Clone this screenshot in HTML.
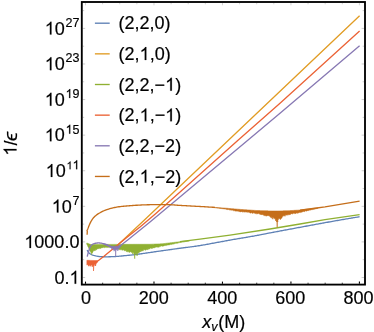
<!DOCTYPE html>
<html><head><meta charset="utf-8"><title>plot</title>
<style>
html,body{margin:0;padding:0;background:#fff;}
svg{display:block;will-change:transform;}
text{font-family:"Liberation Sans",sans-serif;fill:#000;stroke:#000;stroke-width:0.18px;}
.o{fill:none;stroke:none;}
</style></head><body>
<svg width="374" height="332" viewBox="0 0 374 332">
<g>
<path d="M87.10 250.10 L87.57 250.96 L88.20 252.00 L88.79 252.74 L89.50 253.40 L90.44 254.04 L91.50 254.60 L92.43 255.01 L93.80 255.40 L94.66 255.61 L95.67 255.86 L96.80 256.10 L98.01 256.33 L99.30 256.50 L100.27 256.59 L101.29 256.66 L102.36 256.72 L103.46 256.76 L104.59 256.78 L105.74 256.80 L106.90 256.80 L107.93 256.79 L109.01 256.78 L110.10 256.75 L111.21 256.71 L112.31 256.66 L113.40 256.61 L114.47 256.56 L115.50 256.50 L116.57 256.43 L117.53 256.36 L118.45 256.29 L119.39 256.21 L120.42 256.11 L121.60 255.99 L123.00 255.85 L123.78 255.77 L124.58 255.70 L125.41 255.62 L126.26 255.54 L127.15 255.45 L128.07 255.36 L129.03 255.27 L130.03 255.16 L131.07 255.05 L132.15 254.93 L133.29 254.81 L134.47 254.67 L135.71 254.51 L137.00 254.35 L137.82 254.24 L138.68 254.13 L139.58 254.00 L140.50 253.88 L141.46 253.74 L142.43 253.60 L143.43 253.46 L144.45 253.32 L145.49 253.17 L146.54 253.01 L147.59 252.86 L148.66 252.70 L149.73 252.55 L150.80 252.39 L151.87 252.23 L152.93 252.08 L153.99 251.92 L155.03 251.77 L156.07 251.62 L157.08 251.47 L158.08 251.33 L159.05 251.19 L160.00 251.05 L161.07 250.90 L162.12 250.75 L163.16 250.60 L164.19 250.46 L165.21 250.31 L166.22 250.17 L167.22 250.03 L168.22 249.89 L169.20 249.75 L170.19 249.61 L171.17 249.48 L172.14 249.34 L173.12 249.20 L174.09 249.07 L175.07 248.93 L176.05 248.80 L177.03 248.66 L178.01 248.52 L179.00 248.39 L180.00 248.25 L180.99 248.12 L181.95 247.99 L182.90 247.87 L183.84 247.75 L184.77 247.63 L185.69 247.52 L186.60 247.41 L187.52 247.29 L188.44 247.18 L189.38 247.07 L190.32 246.95 L191.28 246.82 L192.26 246.69 L193.27 246.56 L194.30 246.42 L195.36 246.26 L196.46 246.10 L197.59 245.93 L198.77 245.75 L200.00 245.55 L200.85 245.41 L201.73 245.26 L202.64 245.11 L203.58 244.95 L204.54 244.78 L205.52 244.60 L206.52 244.42 L207.54 244.24 L208.58 244.05 L209.63 243.86 L210.69 243.67 L211.76 243.47 L212.84 243.27 L213.92 243.07 L215.00 242.87 L216.08 242.67 L217.16 242.47 L218.24 242.26 L219.31 242.06 L220.37 241.87 L221.42 241.67 L222.46 241.48 L223.48 241.29 L224.48 241.10 L225.46 240.92 L226.42 240.75 L227.36 240.57 L228.27 240.41 L229.15 240.25 L230.00 240.10 L231.24 239.88 L232.45 239.67 L233.65 239.46 L234.82 239.26 L235.96 239.06 L237.08 238.87 L238.18 238.69 L239.25 238.51 L240.29 238.33 L241.31 238.16 L242.31 238.00 L243.27 237.84 L244.21 237.68 L245.12 237.53 L246.01 237.38 L246.86 237.24 L247.69 237.10 L248.49 236.96 L249.26 236.83 L250.00 236.70 L251.47 236.44 L252.70 236.23 L253.74 236.04 L254.64 235.87 L255.47 235.72 L256.26 235.57 L257.08 235.42 L257.97 235.25 L259.00 235.05 L259.76 234.90 L260.28 234.80 L260.67 234.72 L261.00 234.64 L261.39 234.56 L261.91 234.45 L262.68 234.30 L263.77 234.08 L265.30 233.79 L267.34 233.40 L270.00 232.90 L270.62 232.78 L271.27 232.66 L271.96 232.53 L272.67 232.40 L273.42 232.26 L274.20 232.11 L275.01 231.96 L275.85 231.81 L276.71 231.64 L277.60 231.48 L278.51 231.31 L279.45 231.13 L280.40 230.95 L281.38 230.77 L282.38 230.59 L283.39 230.40 L284.43 230.20 L285.48 230.01 L286.54 229.81 L287.62 229.61 L288.71 229.40 L289.81 229.20 L290.92 228.99 L292.04 228.78 L293.17 228.57 L294.31 228.36 L295.45 228.15 L296.60 227.93 L297.75 227.72 L298.90 227.51 L300.05 227.29 L301.21 227.08 L302.36 226.86 L303.51 226.65 L304.65 226.44 L305.79 226.23 L306.93 226.02 L308.05 225.81 L309.17 225.60 L310.28 225.40 L311.38 225.19 L312.47 224.99 L313.54 224.80 L314.60 224.60 L315.65 224.41 L316.67 224.22 L317.69 224.03 L318.68 223.85 L319.65 223.67 L320.60 223.50 L321.53 223.33 L322.44 223.17 L323.32 223.01 L324.17 222.85 L325.00 222.70 L326.28 222.47 L327.55 222.24 L328.81 222.02 L330.07 221.79 L331.32 221.57 L332.55 221.35 L333.78 221.14 L334.99 220.92 L336.19 220.71 L337.38 220.50 L338.55 220.30 L339.71 220.10 L340.85 219.90 L341.97 219.71 L343.07 219.52 L344.15 219.33 L345.22 219.15 L346.25 218.97 L347.27 218.80 L348.26 218.63 L349.23 218.47 L350.17 218.31 L351.09 218.15 L351.97 218.00 L352.83 217.85 L353.66 217.71 L354.46 217.58 L355.22 217.45 L355.95 217.32 L356.65 217.21 L357.31 217.09 L357.94 216.99 L358.53 216.88 L359.09 216.79 L359.60 216.70" fill="none" stroke="#5E81B5" stroke-width="1.32" stroke-linejoin="round" stroke-linecap="butt" />
<path d="M113.40 248.40 L117.80 245.00 L146.00 218.55 L176.00 190.00 L359.60 15.80" fill="none" stroke="#E19C24" stroke-width="1.32" stroke-linejoin="round" stroke-linecap="butt" />
<path d="M86.80 243.00 L87.20 243.15 L87.60 243.30 L88.00 243.46 L88.40 243.61 L88.80 243.76 L89.20 243.91 L89.60 244.07 L90.00 244.22 L90.40 244.37 L90.80 244.52 L91.20 244.60 L91.60 244.59 L92.00 244.58 L92.40 244.57 L92.80 244.56 L93.20 244.55 L93.60 244.54 L94.00 244.53 L94.40 244.52 L94.80 244.52 L95.20 244.51 L95.60 244.50 L96.00 244.49 L96.40 244.48 L96.80 244.47 L97.20 244.46 L97.60 244.45 L98.00 244.44 L98.40 244.44 L98.80 244.43 L99.20 244.42 L99.60 244.41 L100.00 244.40 L100.40 244.40 L100.80 244.40 L101.20 244.40 L101.60 244.40 L102.00 244.40 L102.40 244.40 L102.80 244.40 L103.20 244.40 L103.60 244.40 L104.00 244.40 L104.40 244.40 L104.80 244.40 L105.20 244.40 L105.60 244.40 L106.00 244.40 L106.40 244.40 L106.80 244.40 L107.20 244.40 L107.60 244.40 L108.00 244.40 L108.40 244.40 L108.80 244.40 L109.20 244.40 L109.60 244.40 L110.00 244.40 L110.40 244.40 L110.80 244.40 L111.20 244.40 L111.60 244.40 L112.00 244.40 L112.40 244.40 L112.80 244.40 L113.20 244.40 L113.60 244.40 L114.00 244.39 L114.40 244.39 L114.80 244.39 L115.20 244.39 L115.60 244.39 L116.00 244.39 L116.40 244.39 L116.80 244.39 L117.20 244.39 L117.60 244.39 L118.00 244.38 L118.40 244.38 L118.80 244.38 L119.20 244.38 L119.60 244.38 L120.00 244.38 L120.40 244.38 L120.80 244.38 L121.20 244.38 L121.60 244.37 L122.00 244.37 L122.40 244.37 L122.80 244.37 L123.20 244.37 L123.60 244.37 L124.00 244.37 L124.40 244.37 L124.80 244.37 L125.20 244.37 L125.60 244.36 L126.00 244.36 L126.40 244.36 L126.80 244.36 L127.20 244.36 L127.60 244.36 L128.00 244.36 L128.40 244.36 L128.80 244.36 L129.20 244.35 L129.60 244.35 L130.00 244.35 L130.40 244.35 L130.80 244.35 L131.20 244.35 L131.60 244.35 L132.00 244.35 L132.40 244.35 L132.80 244.35 L133.20 244.34 L133.60 244.34 L134.00 244.34 L134.40 244.34 L134.80 244.34 L135.20 244.34 L135.60 244.34 L136.00 244.34 L136.40 244.34 L136.80 244.33 L137.20 244.33 L137.60 244.33 L138.00 244.33 L138.40 244.33 L138.80 244.33 L139.20 244.33 L139.60 244.33 L140.00 244.33 L140.40 244.33 L140.80 244.32 L141.20 244.32 L141.60 244.32 L142.00 244.32 L142.40 244.32 L142.80 244.32 L143.20 244.32 L143.60 244.32 L144.00 244.32 L144.40 244.31 L144.80 244.31 L145.20 244.31 L145.60 244.31 L146.00 244.31 L146.40 244.31 L146.80 244.31 L147.20 244.31 L147.60 244.31 L148.00 244.31 L148.40 244.30 L148.80 244.30 L149.20 244.30 L149.60 244.30 L150.00 244.30 L150.40 244.28 L150.80 244.27 L151.20 244.25 L151.60 244.23 L152.00 244.22 L152.40 244.20 L152.80 244.18 L153.20 244.17 L153.60 244.15 L154.00 244.13 L154.40 244.12 L154.80 244.10 L155.20 244.08 L155.60 244.07 L156.00 244.05 L156.40 244.03 L156.80 244.02 L157.20 244.00 L157.60 243.98 L158.00 243.97 L158.40 243.95 L158.80 243.93 L159.20 243.92 L159.60 243.90 L160.00 243.88 L160.40 243.87 L160.80 243.85 L161.20 243.83 L161.60 243.82 L162.00 243.80 L162.40 243.75 L162.80 243.71 L163.20 243.66 L163.60 243.61 L164.00 243.57 L164.40 243.52 L164.80 243.47 L165.20 243.43 L165.60 243.38 L166.00 243.33 L166.40 243.29 L166.80 243.24 L167.20 243.19 L167.60 243.15 L168.00 243.10 L168.40 243.05 L168.80 243.01 L169.20 242.96 L169.60 242.91 L170.00 242.87 L170.40 242.82 L170.80 242.77 L171.20 242.73 L171.60 242.68 L172.00 242.63 L172.40 242.59 L172.80 242.54 L173.20 242.49 L173.60 242.45 L174.00 242.40 L174.40 242.35 L174.80 242.31 L175.20 242.26 L175.60 242.21 L176.00 242.17 L176.40 242.12 L176.80 242.07 L177.20 242.03 L177.60 241.98 L178.00 241.93 L178.40 241.89 L178.80 241.84 L179.20 241.79 L179.60 241.75 L180.00 241.70 L180.40 241.65 L180.80 241.60 L181.20 241.56 L181.60 241.51 L182.00 241.46 L182.40 241.41 L182.80 241.36 L183.20 241.32 L183.60 241.27 L184.00 241.22 L184.40 241.17 L184.80 241.12 L185.20 241.08 L185.60 241.03 L186.00 240.98 L186.40 240.93 L186.80 240.88 L187.20 240.84 L187.60 240.79 L188.00 240.74 L188.40 240.69 L188.80 240.64 L189.20 240.60 L189.60 240.55 L189.60 240.90 L189.20 241.04 L188.80 241.09 L188.40 241.13 L188.00 241.24 L187.60 241.25 L187.20 241.32 L186.80 241.39 L186.40 241.41 L186.00 241.53 L185.60 241.54 L185.20 241.64 L184.80 241.72 L184.40 241.80 L184.00 241.79 L183.60 241.97 L183.20 241.99 L182.80 242.08 L182.40 242.10 L182.00 242.22 L181.60 242.28 L181.20 242.35 L180.80 242.43 L180.40 242.39 L180.00 242.44 L179.60 242.61 L179.20 242.60 L178.80 242.77 L178.40 242.83 L178.00 242.84 L177.60 243.15 L177.20 243.21 L176.80 243.20 L176.40 243.34 L176.00 243.34 L175.60 243.34 L175.20 243.47 L174.80 243.75 L174.40 243.64 L174.00 243.69 L173.60 244.02 L173.20 244.12 L172.80 244.20 L172.40 244.09 L172.00 244.10 L171.60 244.38 L171.20 244.47 L170.80 244.34 L170.40 244.49 L170.00 244.76 L169.60 244.65 L169.20 244.98 L168.80 244.92 L168.40 244.88 L168.00 244.93 L167.60 244.95 L167.20 245.13 L166.80 245.46 L166.40 245.21 L166.00 245.35 L165.60 245.50 L165.20 245.40 L164.80 245.44 L164.40 245.65 L164.00 245.92 L163.60 246.00 L163.20 246.06 L162.80 246.14 L162.40 246.14 L162.00 245.90 L161.60 245.96 L161.20 246.07 L160.80 246.42 L160.40 246.21 L160.00 246.45 L159.60 246.79 L159.20 246.87 L158.80 247.11 L158.40 247.20 L158.00 247.08 L157.60 247.05 L157.20 247.34 L156.80 247.06 L156.40 247.08 L156.00 247.17 L155.60 247.22 L155.20 247.19 L154.80 247.40 L154.40 247.95 L154.00 247.95 L153.60 247.66 L153.20 247.95 L152.80 247.82 L152.40 248.43 L152.00 248.33 L151.60 248.51 L151.20 248.20 L150.80 248.12 L150.40 248.09 L150.00 248.59 L149.60 249.18 L149.20 248.76 L148.80 249.26 L148.40 248.97 L148.00 248.61 L147.60 249.70 L147.20 249.65 L146.80 249.00 L146.40 249.73 L146.00 249.74 L145.60 250.12 L145.20 250.24 L144.80 249.87 L144.40 250.02 L144.00 249.46 L143.60 249.76 L143.20 250.85 L142.80 250.65 L142.40 250.80 L142.00 251.06 L141.60 251.34 L141.20 250.79 L140.80 250.52 L140.40 251.93 L140.00 251.53 L139.60 252.19 L139.20 252.36 L138.80 252.86 L138.40 253.02 L138.00 252.75 L137.60 253.32 L137.50 253.68 L137.20 253.48 L137.10 255.90 L136.80 253.93 L136.70 254.09 L136.40 254.06 L136.00 253.04 L135.60 254.22 L135.20 253.73 L135.20 254.55 L134.80 253.86 L134.70 258.70 L134.40 252.96 L134.20 254.52 L134.00 252.68 L133.60 252.76 L133.20 252.40 L132.80 253.91 L132.40 252.56 L132.00 252.52 L131.60 252.55 L131.20 252.08 L130.80 251.47 L130.40 252.00 L130.00 252.18 L129.60 251.99 L129.20 252.57 L128.80 252.04 L128.40 251.41 L128.00 251.48 L127.60 251.77 L127.20 251.66 L126.80 251.64 L126.40 251.57 L126.00 250.28 L125.60 250.29 L125.20 250.95 L124.80 250.76 L124.40 250.84 L124.00 249.94 L123.60 249.90 L123.20 249.71 L122.80 250.04 L122.40 250.06 L122.00 250.40 L121.60 249.33 L121.20 249.80 L120.80 249.85 L120.40 249.87 L120.00 249.05 L119.60 249.73 L119.20 249.57 L118.80 249.41 L118.40 249.01 L118.00 249.36 L117.60 248.62 L117.20 248.80 L116.80 248.80 L116.40 248.21 L116.00 247.97 L115.60 248.19 L115.20 248.05 L114.80 248.51 L114.40 247.94 L114.00 248.02 L113.60 247.57 L113.20 247.59 L112.80 247.81 L112.40 247.64 L112.00 247.56 L111.60 247.42 L111.20 247.61 L110.80 247.16 L110.40 247.29 L110.00 247.11 L109.60 247.17 L109.20 247.57 L108.80 247.29 L108.40 247.50 L108.00 247.12 L107.60 247.36 L107.20 247.57 L106.80 247.03 L106.40 247.51 L106.00 247.24 L105.60 247.17 L105.20 247.42 L104.80 247.41 L104.40 247.66 L104.00 247.37 L103.60 247.33 L103.20 247.71 L102.80 247.68 L102.40 247.66 L102.00 247.94 L101.60 247.93 L101.20 247.81 L100.80 248.26 L100.40 248.47 L100.00 248.55 L99.60 248.25 L99.20 248.52 L98.80 248.39 L98.40 248.56 L98.00 249.05 L97.60 248.55 L97.20 249.17 L96.80 249.48 L96.40 249.72 L96.00 249.82 L95.60 249.41 L95.20 250.64 L94.80 249.71 L94.40 250.72 L94.00 250.72 L93.60 250.42 L93.20 251.18 L92.80 252.11 L92.40 252.60 L92.10 253.06 L92.00 251.73 L91.70 254.50 L91.60 252.57 L91.30 253.06 L91.20 252.82 L90.80 252.37 L90.40 251.20 L90.00 251.16 L89.60 249.78 L89.20 249.40 L88.80 248.15 L88.40 247.18 L88.00 246.67 L87.60 245.54 L87.20 244.98 L86.80 244.12Z" fill="#8FB032" stroke="#8FB032" stroke-width="0.60" stroke-linejoin="round"/>
<path d="M180.00 241.70 L200.00 239.10 L230.00 235.10 L270.00 229.00 L300.00 224.00 L325.00 219.60 L359.60 214.70" fill="none" stroke="#8FB032" stroke-width="1.32" stroke-linejoin="round" stroke-linecap="butt" />
<path d="M86.90 260.30 L87.40 260.31 L87.90 260.33 L88.40 260.34 L88.90 260.36 L89.40 260.37 L89.90 260.38 L90.40 260.40 L90.90 260.41 L91.40 260.42 L91.90 260.44 L92.40 260.45 L92.90 260.47 L93.40 260.48 L93.90 260.49 L94.40 260.51 L94.90 260.52 L95.40 260.53 L95.90 260.55 L96.40 260.56 L96.90 260.58 L97.40 260.59 L97.40 262.13 L96.90 262.78 L96.40 263.43 L95.90 264.01 L95.85 264.81 L95.50 266.00 L95.40 264.97 L95.15 265.59 L94.90 264.29 L94.40 264.49 L94.00 265.55 L93.90 264.75 L93.50 271.00 L93.40 264.81 L93.00 265.52 L92.90 264.42 L92.70 265.50 L92.40 265.10 L92.30 267.00 L91.90 265.13 L91.90 265.48 L91.40 264.67 L90.90 265.29 L90.55 265.43 L90.40 264.32 L90.20 266.40 L89.90 264.62 L89.85 265.40 L89.40 264.66 L88.95 265.37 L88.90 264.91 L88.60 266.20 L88.40 264.57 L88.25 265.35 L87.90 264.32 L87.40 264.65 L86.90 265.06Z" fill="#EB6235" stroke="#EB6235" stroke-width="0.60" stroke-linejoin="round"/>
<path d="M96.50 262.00 L104.30 255.90 L113.40 248.40 L120.00 242.90 L128.00 236.50 L140.00 226.95 L150.00 218.50 L155.00 214.15 L182.30 190.00 L238.30 140.00 L280.00 103.15 L359.60 31.00" fill="none" stroke="#EB6235" stroke-width="1.32" stroke-linejoin="round" stroke-linecap="butt" />
<path d="M103.50 243.50 L104.00 243.71 L104.50 243.91 L105.00 244.12 L105.50 244.32 L106.00 244.53 L106.50 244.74 L107.00 244.94 L107.50 245.12 L108.00 245.30 L108.50 245.48 L109.00 245.66 L109.50 245.84 L110.00 246.02 L110.50 246.20 L111.00 246.23 L111.50 246.26 L112.00 246.29 L112.50 246.31 L113.00 246.34 L113.50 246.37 L114.00 246.40 L114.50 246.39 L115.00 246.38 L115.50 246.36 L116.00 246.35 L116.50 246.34 L117.00 246.33 L117.50 246.31 L118.00 246.30 L118.50 246.07 L119.00 245.84 L119.50 245.60 L120.00 245.37 L120.50 245.14 L120.50 246.62 L120.00 247.27 L119.50 248.16 L119.00 247.95 L118.50 248.02 L118.30 249.42 L118.00 248.96 L117.90 250.90 L117.50 249.90 L117.50 249.33 L117.00 248.72 L116.50 249.86 L116.20 250.20 L116.00 248.71 L115.60 256.70 L115.50 248.84 L115.00 250.20 L115.00 249.98 L114.50 249.19 L114.40 250.20 L114.00 251.20 L114.00 249.11 L113.60 250.02 L113.50 249.75 L113.00 248.53 L112.50 248.52 L112.00 248.49 L111.50 248.66 L111.00 247.98 L110.50 247.56 L110.00 247.14 L109.50 247.09 L109.00 246.86 L108.50 246.30 L108.00 246.04 L107.50 246.01 L107.00 245.93 L106.50 245.40 L106.00 245.19 L105.50 245.03 L105.00 244.70 L104.50 244.63 L104.00 244.37 L103.50 244.16Z" fill="#8778B3" stroke="#8778B3" stroke-width="0.60" stroke-linejoin="round"/>
<path d="M87.20 256.60 L87.38 255.89 L87.60 255.00 L87.77 254.32 L88.00 253.50 L88.15 252.95 L88.33 252.32 L88.53 251.62 L88.80 250.80 L89.02 250.15 L89.26 249.40 L89.53 248.61 L89.81 247.82 L90.11 247.10 L90.40 246.50 L90.99 245.63 L91.60 245.01 L92.30 244.50 L92.89 244.15 L93.52 243.85 L94.19 243.61 L94.90 243.40 L95.66 243.23 L96.46 243.09 L97.29 243.00 L98.10 242.95 L98.88 242.95 L99.66 242.98 L100.45 243.07 L101.30 243.20 L102.05 243.35 L102.86 243.55 L103.69 243.76 L104.48 243.99 L105.20 244.20 L105.97 244.44 L106.64 244.67 L107.30 244.91 L108.00 245.20 L108.63 245.48 L109.29 245.80 L109.97 246.13 L110.61 246.44 L111.20 246.70 L112.12 247.02 L112.94 247.25 L113.50 247.40" fill="none" stroke="#8778B3" stroke-width="1.32" stroke-linejoin="round" stroke-linecap="butt" />
<path d="M118.50 247.20 L120.60 245.50 L128.00 239.70 L150.00 221.90 L188.30 190.10 L248.10 140.00 L280.00 113.15 L359.60 45.80" fill="none" stroke="#8778B3" stroke-width="1.32" stroke-linejoin="round" stroke-linecap="butt" />
<path d="M88.00 228.60 L88.24 227.86 L88.60 226.79 L89.00 225.70 L89.43 224.67 L89.90 223.62 L90.40 222.60 L90.90 221.64 L91.43 220.71 L92.00 219.80 L92.60 218.92 L93.24 218.06 L94.00 217.20 L94.92 216.31 L95.96 215.41 L97.00 214.60 L98.03 213.90 L99.08 213.28 L100.10 212.70 L101.07 212.16 L102.03 211.67 L103.00 211.20 L103.91 210.77 L104.84 210.36 L106.10 209.90 L106.89 209.63 L107.75 209.33 L108.69 209.02 L109.72 208.71 L110.85 208.40 L112.10 208.10 L112.97 207.90 L113.84 207.71 L114.74 207.51 L115.69 207.32 L116.70 207.13 L117.80 206.94 L119.00 206.75 L120.33 206.57 L121.80 206.40 L122.61 206.31 L123.47 206.23 L124.38 206.14 L125.33 206.06 L126.33 205.97 L127.36 205.89 L128.41 205.81 L129.48 205.72 L130.57 205.64 L131.66 205.57 L132.76 205.49 L133.86 205.42 L134.94 205.35 L136.01 205.28 L137.05 205.22 L138.07 205.16 L139.06 205.10 L140.00 205.05 L141.09 204.99 L142.16 204.95 L143.20 204.90 L144.23 204.86 L145.24 204.83 L146.23 204.80 L147.21 204.77 L148.19 204.75 L149.15 204.73 L150.12 204.71 L151.08 204.70 L152.05 204.69 L153.02 204.67 L154.01 204.66 L155.00 204.65 L156.01 204.64 L157.04 204.63 L158.08 204.62 L159.13 204.61 L160.19 204.61 L161.24 204.61 L162.29 204.61 L163.33 204.61 L164.36 204.61 L165.37 204.62 L166.36 204.63 L167.32 204.64 L168.25 204.66 L169.15 204.68 L170.00 204.70 L171.16 204.74 L172.16 204.79 L173.05 204.85 L173.88 204.91 L174.69 204.98 L175.52 205.06 L176.42 205.14 L177.44 205.22 L178.62 205.31 L180.00 205.40 L180.78 205.45 L181.62 205.49 L182.51 205.55 L183.44 205.60 L184.41 205.65 L185.42 205.71 L186.46 205.76 L187.52 205.82 L188.60 205.88 L189.69 205.94 L190.78 206.00 L191.88 206.06 L192.97 206.11 L194.05 206.17 L195.12 206.23 L196.16 206.29 L197.18 206.34 L198.16 206.40 L199.10 206.45 L200.00 206.50 L201.18 206.57 L202.37 206.64 L203.56 206.71 L204.75 206.78 L205.93 206.85 L207.08 206.92 L208.20 206.99 L209.29 207.05 L210.32 207.11 L211.30 207.17 L212.21 207.23 L213.04 207.28 L213.79 207.33 L214.45 207.37 L215.00 207.40" fill="none" stroke="#C56E1A" stroke-width="1.32" stroke-linejoin="round" stroke-linecap="butt" />
<path d="M87.10 234.70 L87.30 231.50 L87.00 230.40 L87.60 229.50 L88.00 228.60" fill="none" stroke="#C56E1A" stroke-width="1.32" stroke-linejoin="round" stroke-linecap="butt" />
<path d="M213.00 207.30 L213.45 207.33 L213.90 207.36 L214.35 207.39 L214.80 207.42 L215.25 207.45 L215.70 207.48 L216.15 207.51 L216.60 207.55 L217.05 207.58 L217.50 207.61 L217.95 207.64 L218.40 207.67 L218.85 207.70 L219.30 207.73 L219.75 207.76 L220.20 207.79 L220.65 207.82 L221.10 207.85 L221.55 207.88 L222.00 207.91 L222.45 207.94 L222.90 207.97 L223.35 208.01 L223.80 208.04 L224.25 208.07 L224.70 208.11 L225.15 208.15 L225.60 208.18 L226.05 208.22 L226.50 208.26 L226.95 208.30 L227.40 208.34 L227.85 208.37 L228.30 208.41 L228.75 208.45 L229.20 208.49 L229.65 208.53 L230.10 208.56 L230.55 208.60 L231.00 208.64 L231.45 208.68 L231.90 208.72 L232.35 208.75 L232.80 208.79 L233.25 208.83 L233.70 208.87 L234.15 208.91 L234.60 208.94 L235.05 208.98 L235.50 209.02 L235.95 209.06 L236.40 209.10 L236.85 209.13 L237.30 209.17 L237.75 209.21 L238.20 209.25 L238.65 209.29 L239.10 209.32 L239.55 209.36 L240.00 209.40 L240.45 209.43 L240.90 209.46 L241.35 209.49 L241.80 209.52 L242.25 209.55 L242.70 209.59 L243.15 209.62 L243.60 209.65 L244.05 209.68 L244.50 209.71 L244.95 209.74 L245.40 209.77 L245.85 209.80 L246.30 209.83 L246.75 209.86 L247.20 209.89 L247.65 209.93 L248.10 209.96 L248.55 209.99 L249.00 210.02 L249.45 210.05 L249.90 210.08 L250.35 210.11 L250.80 210.14 L251.25 210.17 L251.70 210.20 L252.15 210.24 L252.60 210.27 L253.05 210.30 L253.50 210.33 L253.95 210.36 L254.40 210.39 L254.85 210.42 L255.30 210.45 L255.75 210.48 L256.20 210.51 L256.65 210.52 L257.10 210.53 L257.55 210.55 L258.00 210.56 L258.45 210.58 L258.90 210.59 L259.35 210.60 L259.80 210.62 L260.25 210.63 L260.70 210.65 L261.15 210.66 L261.60 210.67 L262.05 210.69 L262.50 210.70 L262.95 210.72 L263.40 210.73 L263.85 210.75 L264.30 210.76 L264.75 210.77 L265.20 210.79 L265.65 210.80 L266.10 210.82 L266.55 210.83 L267.00 210.84 L267.45 210.86 L267.90 210.87 L268.35 210.89 L268.80 210.90 L269.25 210.91 L269.70 210.93 L270.15 210.94 L270.60 210.96 L271.05 210.97 L271.50 210.98 L271.95 211.00 L272.40 211.00 L272.85 211.00 L273.30 211.00 L273.75 211.00 L274.20 211.00 L274.65 211.00 L275.10 211.00 L275.55 211.00 L276.00 211.00 L276.45 211.00 L276.90 211.00 L277.35 211.00 L277.80 211.00 L278.25 210.99 L278.70 210.98 L279.15 210.97 L279.60 210.96 L280.05 210.95 L280.50 210.94 L280.95 210.93 L281.40 210.92 L281.85 210.90 L282.30 210.89 L282.75 210.88 L283.20 210.87 L283.65 210.86 L284.10 210.85 L284.55 210.84 L285.00 210.83 L285.45 210.81 L285.90 210.80 L286.35 210.79 L286.80 210.78 L287.25 210.77 L287.70 210.76 L288.15 210.74 L288.60 210.72 L289.05 210.69 L289.50 210.66 L289.95 210.64 L290.40 210.61 L290.85 210.58 L291.30 210.56 L291.75 210.53 L292.20 210.51 L292.65 210.48 L293.10 210.45 L293.55 210.43 L294.00 210.40 L294.45 210.37 L294.90 210.35 L295.35 210.32 L295.80 210.30 L296.25 210.27 L296.70 210.24 L297.15 210.22 L297.60 210.19 L298.05 210.16 L298.50 210.14 L298.95 210.11 L299.40 210.09 L299.85 210.06 L300.30 210.01 L300.75 209.96 L301.20 209.91 L301.65 209.85 L302.10 209.80 L302.55 209.75 L303.00 209.69 L303.45 209.64 L303.90 209.58 L304.35 209.53 L304.80 209.48 L305.25 209.42 L305.70 209.37 L306.15 209.32 L306.60 209.26 L307.05 209.21 L307.50 209.15 L307.95 209.10 L308.40 209.05 L308.85 208.99 L309.30 208.94 L309.75 208.89 L310.20 208.83 L310.65 208.78 L311.10 208.72 L311.55 208.67 L312.00 208.62 L312.45 208.56 L312.90 208.51 L313.35 208.46 L313.80 208.40 L314.25 208.35 L314.70 208.29 L315.15 208.24 L315.60 208.19 L316.05 208.13 L316.50 208.08 L316.95 208.03 L317.40 207.97 L317.85 207.92 L317.85 208.24 L317.40 208.26 L316.95 208.44 L316.50 208.55 L316.05 208.70 L315.60 208.79 L315.15 208.87 L314.70 208.97 L314.25 209.21 L313.80 209.33 L313.35 209.31 L312.90 209.29 L312.45 209.62 L312.00 209.57 L311.55 209.60 L311.10 209.86 L310.65 209.84 L310.20 210.25 L309.75 209.99 L309.30 210.30 L308.85 210.60 L308.40 210.49 L307.95 210.80 L307.50 210.49 L307.05 211.02 L306.60 211.09 L306.15 211.09 L305.70 210.86 L305.25 211.06 L304.80 211.39 L304.35 211.80 L303.90 211.27 L303.45 211.33 L303.00 212.00 L302.55 211.59 L302.10 212.28 L301.65 212.12 L301.20 212.22 L300.75 212.29 L300.30 212.58 L299.85 212.34 L299.40 212.40 L298.95 212.48 L298.50 212.92 L298.05 213.19 L297.60 213.31 L297.15 212.86 L296.70 213.18 L296.25 212.82 L295.80 213.39 L295.35 213.59 L294.90 213.75 L294.45 213.24 L294.00 213.35 L293.55 213.27 L293.10 213.44 L292.65 213.76 L292.20 213.96 L291.75 213.91 L291.30 213.42 L290.85 213.78 L290.40 214.53 L289.95 213.96 L289.50 214.64 L289.05 214.98 L288.60 214.84 L288.15 214.27 L287.70 215.31 L287.25 214.61 L286.80 214.93 L286.35 215.11 L285.90 214.86 L285.45 214.91 L285.00 216.34 L284.55 215.68 L284.10 215.48 L283.65 215.83 L283.20 216.12 L282.75 216.56 L282.30 216.26 L281.85 218.18 L281.40 217.93 L280.95 218.81 L280.50 219.42 L280.05 219.25 L279.60 218.34 L279.15 218.72 L278.70 218.42 L278.25 219.72 L277.80 219.27 L277.75 222.00 L277.35 219.34 L277.20 227.20 L276.90 219.24 L276.65 222.00 L276.45 220.23 L276.00 219.86 L275.55 220.72 L275.10 218.40 L274.65 218.39 L274.20 218.46 L273.75 217.52 L273.30 217.46 L272.85 219.23 L272.40 217.50 L271.95 217.08 L271.50 218.20 L271.05 216.14 L270.60 217.37 L270.15 217.02 L269.70 215.83 L269.25 215.97 L268.80 215.89 L268.35 215.53 L267.90 215.75 L267.45 215.55 L267.00 216.04 L266.55 215.81 L266.10 216.16 L265.65 216.01 L265.20 215.33 L264.75 215.70 L264.30 215.32 L263.85 215.59 L263.40 214.76 L262.95 215.07 L262.50 214.55 L262.05 214.48 L261.60 214.52 L261.15 214.93 L260.70 214.39 L260.25 214.37 L259.80 213.49 L259.35 214.28 L258.90 213.84 L258.45 213.28 L258.00 213.22 L257.55 213.92 L257.10 213.64 L256.65 213.86 L256.20 213.47 L255.75 213.57 L255.30 213.55 L254.85 213.45 L254.40 213.00 L253.95 212.75 L253.50 212.72 L253.05 213.38 L252.60 213.24 L252.15 213.09 L251.70 212.58 L251.25 213.12 L250.80 213.00 L250.35 213.00 L249.90 212.68 L249.45 212.57 L249.00 212.31 L248.55 212.19 L248.10 212.03 L247.65 212.38 L247.20 211.82 L246.75 212.02 L246.30 212.12 L245.85 212.17 L245.40 211.77 L244.95 212.00 L244.50 212.01 L244.05 211.66 L243.60 212.18 L243.15 211.49 L242.70 211.80 L242.25 211.98 L241.80 211.66 L241.35 211.48 L240.90 211.98 L240.45 211.76 L240.00 211.89 L239.55 211.56 L239.10 211.61 L238.65 211.30 L238.20 211.37 L237.75 210.97 L237.30 211.21 L236.85 211.12 L236.40 211.12 L235.95 211.13 L235.50 210.98 L235.05 210.94 L234.60 210.78 L234.15 210.53 L233.70 210.68 L233.25 210.53 L232.80 210.09 L232.35 210.22 L231.90 210.26 L231.45 210.12 L231.00 209.85 L230.55 210.16 L230.10 209.71 L229.65 209.99 L229.20 209.59 L228.75 209.59 L228.30 209.39 L227.85 209.67 L227.40 209.45 L226.95 209.28 L226.50 209.43 L226.05 209.34 L225.60 209.06 L225.15 209.03 L224.70 208.85 L224.25 209.00 L223.80 208.90 L223.35 208.69 L222.90 208.61 L222.45 208.68 L222.00 208.70 L221.55 208.60 L221.10 208.43 L220.65 208.53 L220.20 208.43 L219.75 208.40 L219.30 208.18 L218.85 208.16 L218.40 208.07 L217.95 208.16 L217.50 208.04 L217.05 207.96 L216.60 207.95 L216.15 207.93 L215.70 207.82 L215.25 207.75 L214.80 207.74 L214.35 207.62 L213.90 207.60 L213.45 207.55 L213.00 207.48Z" fill="#C56E1A" stroke="#C56E1A" stroke-width="0.60" stroke-linejoin="round"/>
<path d="M300.00 210.25 L315.00 208.25 L325.00 206.90 L340.00 204.30 L359.60 201.20" fill="none" stroke="#C56E1A" stroke-width="1.32" stroke-linejoin="round" stroke-linecap="butt" />
</g>
<g>
<rect x="81.80" y="2.00" width="283.20" height="282.60" fill="none" stroke="#000" stroke-width="1.85"/>
<line x1="85.50" y1="283.80" x2="85.50" y2="281.60" stroke="#000" stroke-width="1.10" stroke-opacity="1.00"/>
<line x1="85.50" y1="2.80" x2="85.50" y2="5.30" stroke="#000" stroke-width="0.5" stroke-opacity="0.35"/>
<line x1="102.62" y1="283.80" x2="102.62" y2="282.70" stroke="#000" stroke-width="1.10" stroke-opacity="0.90"/>
<line x1="102.62" y1="2.80" x2="102.62" y2="4.30" stroke="#000" stroke-width="0.5" stroke-opacity="0.35"/>
<line x1="119.74" y1="283.80" x2="119.74" y2="282.70" stroke="#000" stroke-width="1.10" stroke-opacity="0.90"/>
<line x1="119.74" y1="2.80" x2="119.74" y2="4.30" stroke="#000" stroke-width="0.5" stroke-opacity="0.35"/>
<line x1="136.86" y1="283.80" x2="136.86" y2="282.70" stroke="#000" stroke-width="1.10" stroke-opacity="0.90"/>
<line x1="136.86" y1="2.80" x2="136.86" y2="4.30" stroke="#000" stroke-width="0.5" stroke-opacity="0.35"/>
<line x1="153.98" y1="283.80" x2="153.98" y2="281.60" stroke="#000" stroke-width="1.10" stroke-opacity="1.00"/>
<line x1="153.98" y1="2.80" x2="153.98" y2="5.30" stroke="#000" stroke-width="0.5" stroke-opacity="0.35"/>
<line x1="171.10" y1="283.80" x2="171.10" y2="282.70" stroke="#000" stroke-width="1.10" stroke-opacity="0.90"/>
<line x1="171.10" y1="2.80" x2="171.10" y2="4.30" stroke="#000" stroke-width="0.5" stroke-opacity="0.35"/>
<line x1="188.22" y1="283.80" x2="188.22" y2="282.70" stroke="#000" stroke-width="1.10" stroke-opacity="0.90"/>
<line x1="188.22" y1="2.80" x2="188.22" y2="4.30" stroke="#000" stroke-width="0.5" stroke-opacity="0.35"/>
<line x1="205.34" y1="283.80" x2="205.34" y2="282.70" stroke="#000" stroke-width="1.10" stroke-opacity="0.90"/>
<line x1="205.34" y1="2.80" x2="205.34" y2="4.30" stroke="#000" stroke-width="0.5" stroke-opacity="0.35"/>
<line x1="222.46" y1="283.80" x2="222.46" y2="281.60" stroke="#000" stroke-width="1.10" stroke-opacity="1.00"/>
<line x1="222.46" y1="2.80" x2="222.46" y2="5.30" stroke="#000" stroke-width="0.5" stroke-opacity="0.35"/>
<line x1="239.58" y1="283.80" x2="239.58" y2="282.70" stroke="#000" stroke-width="1.10" stroke-opacity="0.90"/>
<line x1="239.58" y1="2.80" x2="239.58" y2="4.30" stroke="#000" stroke-width="0.5" stroke-opacity="0.35"/>
<line x1="256.70" y1="283.80" x2="256.70" y2="282.70" stroke="#000" stroke-width="1.10" stroke-opacity="0.90"/>
<line x1="256.70" y1="2.80" x2="256.70" y2="4.30" stroke="#000" stroke-width="0.5" stroke-opacity="0.35"/>
<line x1="273.82" y1="283.80" x2="273.82" y2="282.70" stroke="#000" stroke-width="1.10" stroke-opacity="0.90"/>
<line x1="273.82" y1="2.80" x2="273.82" y2="4.30" stroke="#000" stroke-width="0.5" stroke-opacity="0.35"/>
<line x1="290.94" y1="283.80" x2="290.94" y2="281.60" stroke="#000" stroke-width="1.10" stroke-opacity="1.00"/>
<line x1="290.94" y1="2.80" x2="290.94" y2="5.30" stroke="#000" stroke-width="0.5" stroke-opacity="0.35"/>
<line x1="308.06" y1="283.80" x2="308.06" y2="282.70" stroke="#000" stroke-width="1.10" stroke-opacity="0.90"/>
<line x1="308.06" y1="2.80" x2="308.06" y2="4.30" stroke="#000" stroke-width="0.5" stroke-opacity="0.35"/>
<line x1="325.18" y1="283.80" x2="325.18" y2="282.70" stroke="#000" stroke-width="1.10" stroke-opacity="0.90"/>
<line x1="325.18" y1="2.80" x2="325.18" y2="4.30" stroke="#000" stroke-width="0.5" stroke-opacity="0.35"/>
<line x1="342.30" y1="283.80" x2="342.30" y2="282.70" stroke="#000" stroke-width="1.10" stroke-opacity="0.90"/>
<line x1="342.30" y1="2.80" x2="342.30" y2="4.30" stroke="#000" stroke-width="0.5" stroke-opacity="0.35"/>
<line x1="359.42" y1="283.80" x2="359.42" y2="281.60" stroke="#000" stroke-width="1.10" stroke-opacity="1.00"/>
<line x1="359.42" y1="2.80" x2="359.42" y2="5.30" stroke="#000" stroke-width="0.5" stroke-opacity="0.35"/>
<line x1="82.60" y1="277.49" x2="85.20" y2="277.49" stroke="#000" stroke-width="0.5" stroke-opacity="0.4"/>
<line x1="364.20" y1="277.49" x2="361.60" y2="277.49" stroke="#000" stroke-width="0.5" stroke-opacity="0.4"/>
<line x1="82.60" y1="259.70" x2="84.20" y2="259.70" stroke="#000" stroke-width="0.5" stroke-opacity="0.4"/>
<line x1="364.20" y1="259.70" x2="362.60" y2="259.70" stroke="#000" stroke-width="0.5" stroke-opacity="0.4"/>
<line x1="82.60" y1="241.90" x2="85.20" y2="241.90" stroke="#000" stroke-width="0.5" stroke-opacity="0.4"/>
<line x1="364.20" y1="241.90" x2="361.60" y2="241.90" stroke="#000" stroke-width="0.5" stroke-opacity="0.4"/>
<line x1="82.60" y1="224.11" x2="84.20" y2="224.11" stroke="#000" stroke-width="0.5" stroke-opacity="0.4"/>
<line x1="364.20" y1="224.11" x2="362.60" y2="224.11" stroke="#000" stroke-width="0.5" stroke-opacity="0.4"/>
<line x1="82.60" y1="206.32" x2="85.20" y2="206.32" stroke="#000" stroke-width="0.5" stroke-opacity="0.4"/>
<line x1="364.20" y1="206.32" x2="361.60" y2="206.32" stroke="#000" stroke-width="0.5" stroke-opacity="0.4"/>
<line x1="82.60" y1="188.53" x2="84.20" y2="188.53" stroke="#000" stroke-width="0.5" stroke-opacity="0.4"/>
<line x1="364.20" y1="188.53" x2="362.60" y2="188.53" stroke="#000" stroke-width="0.5" stroke-opacity="0.4"/>
<line x1="82.60" y1="170.74" x2="85.20" y2="170.74" stroke="#000" stroke-width="0.5" stroke-opacity="0.4"/>
<line x1="364.20" y1="170.74" x2="361.60" y2="170.74" stroke="#000" stroke-width="0.5" stroke-opacity="0.4"/>
<line x1="82.60" y1="152.94" x2="84.20" y2="152.94" stroke="#000" stroke-width="0.5" stroke-opacity="0.4"/>
<line x1="364.20" y1="152.94" x2="362.60" y2="152.94" stroke="#000" stroke-width="0.5" stroke-opacity="0.4"/>
<line x1="82.60" y1="135.15" x2="85.20" y2="135.15" stroke="#000" stroke-width="0.5" stroke-opacity="0.4"/>
<line x1="364.20" y1="135.15" x2="361.60" y2="135.15" stroke="#000" stroke-width="0.5" stroke-opacity="0.4"/>
<line x1="82.60" y1="117.36" x2="84.20" y2="117.36" stroke="#000" stroke-width="0.5" stroke-opacity="0.4"/>
<line x1="364.20" y1="117.36" x2="362.60" y2="117.36" stroke="#000" stroke-width="0.5" stroke-opacity="0.4"/>
<line x1="82.60" y1="99.57" x2="85.20" y2="99.57" stroke="#000" stroke-width="0.5" stroke-opacity="0.4"/>
<line x1="364.20" y1="99.57" x2="361.60" y2="99.57" stroke="#000" stroke-width="0.5" stroke-opacity="0.4"/>
<line x1="82.60" y1="81.78" x2="84.20" y2="81.78" stroke="#000" stroke-width="0.5" stroke-opacity="0.4"/>
<line x1="364.20" y1="81.78" x2="362.60" y2="81.78" stroke="#000" stroke-width="0.5" stroke-opacity="0.4"/>
<line x1="82.60" y1="63.98" x2="85.20" y2="63.98" stroke="#000" stroke-width="0.5" stroke-opacity="0.4"/>
<line x1="364.20" y1="63.98" x2="361.60" y2="63.98" stroke="#000" stroke-width="0.5" stroke-opacity="0.4"/>
<line x1="82.60" y1="46.19" x2="84.20" y2="46.19" stroke="#000" stroke-width="0.5" stroke-opacity="0.4"/>
<line x1="364.20" y1="46.19" x2="362.60" y2="46.19" stroke="#000" stroke-width="0.5" stroke-opacity="0.4"/>
<line x1="82.60" y1="28.40" x2="85.20" y2="28.40" stroke="#000" stroke-width="0.5" stroke-opacity="0.4"/>
<line x1="364.20" y1="28.40" x2="361.60" y2="28.40" stroke="#000" stroke-width="0.5" stroke-opacity="0.4"/>
<line x1="82.60" y1="10.61" x2="84.20" y2="10.61" stroke="#000" stroke-width="0.5" stroke-opacity="0.4"/>
<line x1="364.20" y1="10.61" x2="362.60" y2="10.61" stroke="#000" stroke-width="0.5" stroke-opacity="0.4"/>
</g>
<g>
<text x="79.50" y="34.60" text-anchor="end" font-size="18"><tspan class="o">1</tspan>0<tspan font-size="12.5" dy="-7.7" dx="0.8">27</tspan></text><path d="M763 0H583V1147Q518 1085 412.5 1023T223 930V1104Q374 1175 487 1276T647 1472H763Z" transform="translate(44.76,34.60) scale(0.00879,-0.00879)" fill="#000" stroke="#000" stroke-width="20"/>
<text x="79.50" y="70.18" text-anchor="end" font-size="18"><tspan class="o">1</tspan>0<tspan font-size="12.5" dy="-7.7" dx="0.8">23</tspan></text><path d="M763 0H583V1147Q518 1085 412.5 1023T223 930V1104Q374 1175 487 1276T647 1472H763Z" transform="translate(44.76,70.18) scale(0.00879,-0.00879)" fill="#000" stroke="#000" stroke-width="20"/>
<text x="79.50" y="105.77" text-anchor="end" font-size="18"><tspan class="o">1</tspan>0<tspan font-size="12.5" dy="-7.7" dx="0.8"><tspan class="o">1</tspan>9</tspan></text><path d="M763 0H583V1147Q518 1085 412.5 1023T223 930V1104Q374 1175 487 1276T647 1472H763Z" transform="translate(44.76,105.77) scale(0.00879,-0.00879)" fill="#000" stroke="#000" stroke-width="20"/><path d="M763 0H583V1147Q518 1085 412.5 1023T223 930V1104Q374 1175 487 1276T647 1472H763Z" transform="translate(65.59,98.07) scale(0.00610,-0.00610)" fill="#000" stroke="#000" stroke-width="30"/>
<text x="79.50" y="141.35" text-anchor="end" font-size="18"><tspan class="o">1</tspan>0<tspan font-size="12.5" dy="-7.7" dx="0.8"><tspan class="o">1</tspan>5</tspan></text><path d="M763 0H583V1147Q518 1085 412.5 1023T223 930V1104Q374 1175 487 1276T647 1472H763Z" transform="translate(44.76,141.35) scale(0.00879,-0.00879)" fill="#000" stroke="#000" stroke-width="20"/><path d="M763 0H583V1147Q518 1085 412.5 1023T223 930V1104Q374 1175 487 1276T647 1472H763Z" transform="translate(65.59,133.65) scale(0.00610,-0.00610)" fill="#000" stroke="#000" stroke-width="30"/>
<text x="79.50" y="176.94" text-anchor="end" font-size="18"><tspan class="o">1</tspan>0<tspan font-size="12.5" dy="-7.7" dx="0.8"><tspan class="o">1</tspan><tspan class="o">1</tspan></tspan></text><path d="M763 0H583V1147Q518 1085 412.5 1023T223 930V1104Q374 1175 487 1276T647 1472H763Z" transform="translate(45.68,176.94) scale(0.00879,-0.00879)" fill="#000" stroke="#000" stroke-width="20"/><path d="M763 0H583V1147Q518 1085 412.5 1023T223 930V1104Q374 1175 487 1276T647 1472H763Z" transform="translate(66.52,169.24) scale(0.00529,-0.00529)" fill="#000" stroke="#000" stroke-width="34"/><path d="M763 0H583V1147Q518 1085 412.5 1023T223 930V1104Q374 1175 487 1276T647 1472H763Z" transform="translate(72.55,169.24) scale(0.00610,-0.00610)" fill="#000" stroke="#000" stroke-width="30"/>
<text x="79.50" y="212.52" text-anchor="end" font-size="18"><tspan class="o">1</tspan>0<tspan font-size="12.5" dy="-7.7" dx="0.8">7</tspan></text><path d="M763 0H583V1147Q518 1085 412.5 1023T223 930V1104Q374 1175 487 1276T647 1472H763Z" transform="translate(51.72,212.52) scale(0.00879,-0.00879)" fill="#000" stroke="#000" stroke-width="20"/>
<text x="79.40" y="248.10" text-anchor="end" font-size="18"><tspan class="o">1</tspan>000.0</text><path d="M763 0H583V1147Q518 1085 412.5 1023T223 930V1104Q374 1175 487 1276T647 1472H763Z" transform="translate(24.34,248.10) scale(0.00879,-0.00879)" fill="#000" stroke="#000" stroke-width="20"/>
<text x="79.50" y="283.69" text-anchor="end" font-size="18">0.<tspan class="o">1</tspan></text><path d="M763 0H583V1147Q518 1085 412.5 1023T223 930V1104Q374 1175 487 1276T647 1472H763Z" transform="translate(69.48,283.69) scale(0.00879,-0.00879)" fill="#000" stroke="#000" stroke-width="20"/>
<text x="85.90" y="303.7" text-anchor="middle" font-size="18">0</text>
<text x="153.88" y="303.7" text-anchor="middle" font-size="18">200</text>
<text x="222.16" y="303.7" text-anchor="middle" font-size="18">400</text>
<text x="290.34" y="303.7" text-anchor="middle" font-size="18">600</text>
<text x="358.42" y="303.7" text-anchor="middle" font-size="18">800</text>
<text x="202.2" y="327.5" font-size="18"><tspan font-style="italic">x</tspan><tspan font-style="italic" font-size="12.5" dy="3.2">v</tspan><tspan dy="-3.2" dx="0.8">(M)</tspan></text>
<g transform="translate(16.5,155.6) rotate(-90)"><text font-size="18"><tspan class="o">1</tspan>/</text><path d="M763 0H583V1147Q518 1085 412.5 1023T223 930V1104Q374 1175 487 1276T647 1472H763Z" transform="translate(0.00,0.00) scale(0.00879,-0.00879)" fill="#000" stroke="#000" stroke-width="20"/><text font-size="18" font-style="italic" transform="translate(14.3,0) scale(1.2,1.07)">ϵ</text></g>
<line x1="94.9" y1="23.20" x2="109.7" y2="23.20" stroke="#5E81B5" stroke-width="1.35"/>
<text x="118.6" y="29.40" font-size="18">(2,2,0)</text>
<line x1="94.9" y1="53.85" x2="109.7" y2="53.85" stroke="#E19C24" stroke-width="1.35"/>
<text x="118.6" y="60.05" font-size="18">(2,<tspan class="o">1</tspan>,0)</text><path d="M763 0H583V1147Q518 1085 412.5 1023T223 930V1104Q374 1175 487 1276T647 1472H763Z" transform="translate(139.62,60.05) scale(0.00879,-0.00879)" fill="#000" stroke="#000" stroke-width="20"/>
<line x1="94.9" y1="84.50" x2="109.7" y2="84.50" stroke="#8FB032" stroke-width="1.35"/>
<text x="118.6" y="90.70" font-size="18">(2,2,−<tspan class="o">1</tspan>)</text><path d="M763 0H583V1147Q518 1085 412.5 1023T223 930V1104Q374 1175 487 1276T647 1472H763Z" transform="translate(165.13,90.70) scale(0.00879,-0.00879)" fill="#000" stroke="#000" stroke-width="20"/>
<line x1="94.9" y1="115.15" x2="109.7" y2="115.15" stroke="#EB6235" stroke-width="1.35"/>
<text x="118.6" y="121.35" font-size="18">(2,<tspan class="o">1</tspan>,−<tspan class="o">1</tspan>)</text><path d="M763 0H583V1147Q518 1085 412.5 1023T223 930V1104Q374 1175 487 1276T647 1472H763Z" transform="translate(139.62,121.35) scale(0.00879,-0.00879)" fill="#000" stroke="#000" stroke-width="20"/><path d="M763 0H583V1147Q518 1085 412.5 1023T223 930V1104Q374 1175 487 1276T647 1472H763Z" transform="translate(165.15,121.35) scale(0.00879,-0.00879)" fill="#000" stroke="#000" stroke-width="20"/>
<line x1="94.9" y1="145.80" x2="109.7" y2="145.80" stroke="#8778B3" stroke-width="1.35"/>
<text x="118.6" y="152.00" font-size="18">(2,2,−2)</text>
<line x1="94.9" y1="176.45" x2="109.7" y2="176.45" stroke="#C56E1A" stroke-width="1.35"/>
<text x="118.6" y="182.65" font-size="18">(2,<tspan class="o">1</tspan>,−2)</text><path d="M763 0H583V1147Q518 1085 412.5 1023T223 930V1104Q374 1175 487 1276T647 1472H763Z" transform="translate(139.62,182.65) scale(0.00879,-0.00879)" fill="#000" stroke="#000" stroke-width="20"/>
</g>
</svg>
</body></html>
